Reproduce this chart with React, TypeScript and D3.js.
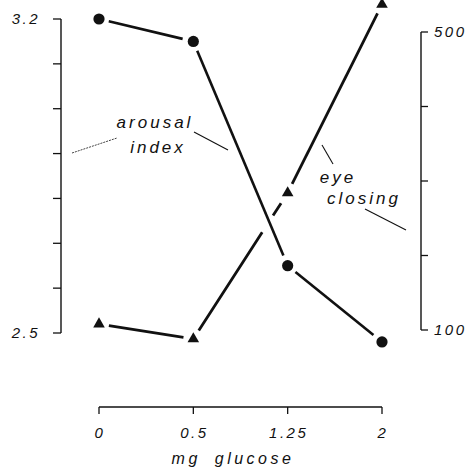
import React from 'react';
import * as d3 from 'd3';

const doses = ['0', '0.5', '1.25', '2'];
const arousalIndex = [3.2, 3.15, 2.65, 2.48];
const eyeClosing = [108, 88, 284, 537];
const leftTicks = [3.2, 3.1, 3.0, 2.9, 2.8, 2.7, 2.6, 2.5];
const leftTickLabels = [3.2, 2.5];
const rightTicks = [100, 200, 300, 400, 500];
const rightTickLabels = [100, 500];
const xTitle = 'mg glucose';
const arousalLabel = ['arousal', 'index'];
const eyeLabel = ['eye', 'closing'];

const FONT = "'Liberation Sans', Arial, sans-serif";
const INK = '#111';

type Pt = [number, number];

function shorten(a: Pt, b: Pt, g0: number, g1: number): [Pt, Pt, number] {
  const dx = b[0] - a[0];
  const dy = b[1] - a[1];
  const L = Math.hypot(dx, dy);
  const ux = dx / L;
  const uy = dy / L;
  return [
    [a[0] + ux * g0, a[1] + uy * g0],
    [b[0] - ux * g1, b[1] - uy * g1],
    L,
  ];
}

export default function App() {
  const x = d3.scalePoint<string>().domain(doses).range([99, 382]);
  const yL = d3.scaleLinear().domain([2.5, 3.2]).range([333, 19]);
  const yR = d3.scaleLinear().domain([100, 500]).range([330, 32]);
  const line = d3.line<Pt>();

  const aPts: Pt[] = doses.map((d, i) => [x(d) as number, yL(arousalIndex[i])]);
  const ePts: Pt[] = doses.map((d, i) => [x(d) as number, yR(eyeClosing[i])]);

  const tri = d3.symbol().type(d3.symbolTriangle).size(58)() as string;

  const aSegs = aPts.slice(0, -1).map((p, i) => {
    const [s, e] = shorten(p, aPts[i + 1], 10, 11);
    return <path key={'a' + i} d={line([s, e]) as string} stroke={INK} strokeWidth={2.6} fill="none" />;
  });

  const eSegs = ePts.slice(0, -1).map((p, i) => {
    const g0 = 10, g1 = 10;
    const [s, e, L] = shorten(p, ePts[i + 1], g0, g1);
    let dash: string | undefined;
    if (i === 1) {
      const solid = 0.73 * L - g0;
      const gap = 0.115 * L;
      const d2 = 0.085 * L;
      dash = `${solid} ${gap} ${d2} ${L}`;
    }
    return (
      <path key={'e' + i} d={line([s, e]) as string} stroke={INK} strokeWidth={2.8}
        fill="none" strokeDasharray={dash} />
    );
  });

  const leftX = 61;
  const rightX = 421;
  const axisY = 407;

  return (
    <svg width={474} height={472} style={{ position: 'absolute', left: 0, top: 0, background: '#fff' }}>
      <rect width={474} height={472} fill="#fff" />
      {/* left axis */}
      <line x1={leftX} x2={leftX} y1={yL(3.2)} y2={yL(2.5)} stroke={INK} strokeWidth={1.4} />
      {leftTicks.map((t) => (
        <line key={t} x1={leftX - 8} x2={leftX} y1={yL(t)} y2={yL(t)} stroke={INK} strokeWidth={1.3} />
      ))}
      {leftTickLabels.map((t) => (
        <text key={t} x={leftX - 21} y={yL(t)} dy="0.36em" textAnchor="end" fontFamily={FONT}
          fontStyle="italic" fontSize={15} letterSpacing={2.5} fill={INK}>
          {t.toFixed(1)}
        </text>
      ))}
      {/* right axis */}
      <line x1={rightX} x2={rightX} y1={yR(500)} y2={yR(100)} stroke={INK} strokeWidth={1.4} />
      {rightTicks.map((t) => (
        <line key={t} x1={rightX} x2={rightX + 7} y1={yR(t)} y2={yR(t)} stroke={INK} strokeWidth={1.3} />
      ))}
      {rightTickLabels.map((t) => (
        <text key={t} x={rightX + 13} y={yR(t)} dy="0.36em" textAnchor="start" fontFamily={FONT}
          fontStyle="italic" fontSize={15} letterSpacing={2.5} fill={INK}>
          {t}
        </text>
      ))}
      {/* x axis */}
      <line x1={x(doses[0])} x2={x(doses[doses.length - 1])} y1={axisY} y2={axisY} stroke={INK} strokeWidth={1.4} />
      {doses.map((d) => (
        <g key={d}>
          <line x1={x(d)} x2={x(d)} y1={axisY} y2={axisY + 7} stroke={INK} strokeWidth={1.3} />
          <text x={(x(d) as number) + 1} y={433} dy="0.36em" textAnchor="middle" fontFamily={FONT}
            fontStyle="italic" fontSize={15} letterSpacing={2.5} fill={INK}>
            {d}
          </text>
        </g>
      ))}
      <text x={233} y={458} dy="0.36em" textAnchor="middle" fontFamily={FONT} fontStyle="italic"
        fontSize={16} letterSpacing={3.5} fill={INK} style={{ wordSpacing: '6px' }}>
        {xTitle}
      </text>

      {/* data lines */}
      {aSegs}
      {eSegs}
      {aPts.map((p, i) => (
        <circle key={'c' + i} cx={p[0]} cy={p[1]} r={5.6} fill={INK} />
      ))}
      {ePts.map((p, i) => (
        <path key={'t' + i} d={tri} transform={`translate(${p[0]},${p[1]})`} fill={INK} />
      ))}

      {/* annotations */}
      <text x={155} y={122} dy="0.36em" textAnchor="middle" fontFamily={FONT} fontStyle="italic"
        fontSize={17} letterSpacing={3} fill={INK}>{arousalLabel[0]}</text>
      <text x={158} y={147} dy="0.36em" textAnchor="middle" fontFamily={FONT} fontStyle="italic"
        fontSize={17} letterSpacing={3} fill={INK}>{arousalLabel[1]}</text>
      <line x1={72} y1={153} x2={117} y2={138} stroke="#444" strokeWidth={1} strokeDasharray="2 1" />
      <line x1={194} y1={132} x2={228} y2={150} stroke={INK} strokeWidth={1.1} />

      <text x={338} y={177} dy="0.36em" textAnchor="middle" fontFamily={FONT} fontStyle="italic"
        fontSize={17} letterSpacing={3} fill={INK}>{eyeLabel[0]}</text>
      <text x={364} y={198} dy="0.36em" textAnchor="middle" fontFamily={FONT} fontStyle="italic"
        fontSize={17} letterSpacing={3} fill={INK}>{eyeLabel[1]}</text>
      <line x1={322} y1={145} x2={333} y2={164} stroke={INK} strokeWidth={1.1} />
      <line x1={365} y1={209} x2={406} y2={230} stroke={INK} strokeWidth={1.1} />
    </svg>
  );
}
